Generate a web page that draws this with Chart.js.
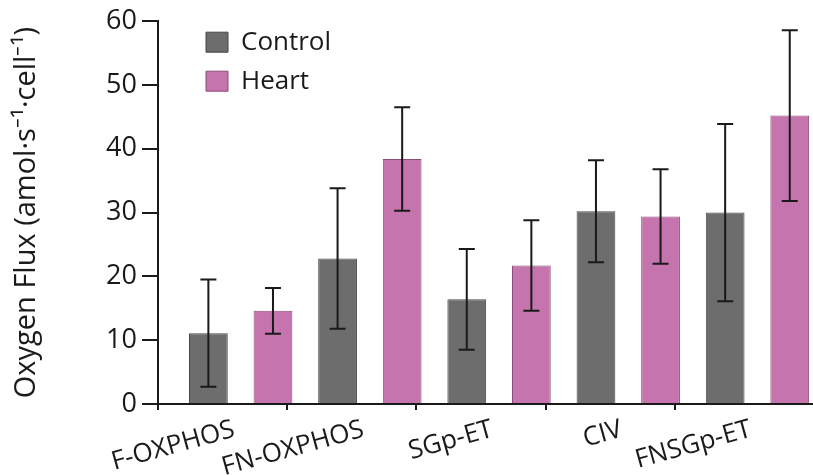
<!DOCTYPE html>
<html lang="en">
<head>
    <meta charset="UTF-8">
    <title>Oxygen Flux</title>
    <script src="https://cdn.jsdelivr.net/npm/chart.js"></script>
    <style>
        body {
            margin: 0;
            padding: 0;
            background: #fff;
        }

        canvas {
            display: block;
        }
    </style>
</head>
<body>
    <canvas id="flujo" width="813" height="475"></canvas>

    <script>
        const grupos = ['F-OXPHOS', 'FN-OXPHOS', 'SGp-ET', 'CIV', 'FNSGp-ET'];
        const controlMedia = [11.1, 22.8, 16.4, 30.2, 30.0];
        const controlError = [8.4, 11.0, 7.9, 8.0, 13.9];
        const heartMedia = [14.6, 38.4, 21.7, 29.4, 45.2];
        const heartError = [3.6, 8.1, 7.1, 7.4, 13.4];
        const series = ['Control', 'Heart'];

        const fuente = "'Open Sans', sans-serif";
        const tinta = '#1a1a1a';

        // barras de error dibujadas con las escalas del grafico
        const barrasError = {
            id: 'barrasError',
            afterDatasetsDraw(chart) {
                const ctx = chart.ctx;
                const y = chart.scales.y;
                ctx.save();
                ctx.strokeStyle = tinta;
                ctx.lineWidth = 2;
                chart.data.datasets.forEach((ds, i) => {
                    const meta = chart.getDatasetMeta(i);
                    meta.data.forEach((barra, j) => {
                        const m = ds.data[j].y;
                        const e = ds.errores[j];
                        const arriba = y.getPixelForValue(m + e);
                        const abajo = y.getPixelForValue(m - e);
                        const cx = barra.x;
                        ctx.beginPath();
                        ctx.moveTo(cx, arriba);
                        ctx.lineTo(cx, abajo);
                        ctx.moveTo(cx - 8, arriba);
                        ctx.lineTo(cx + 8, arriba);
                        ctx.moveTo(cx - 8, abajo);
                        ctx.lineTo(cx + 8, abajo);
                        ctx.stroke();
                    });
                });
                ctx.restore();
            }
        };

        // coloca la leyenda arriba a la izquierda, dentro del area
        const moverLeyenda = {
            id: 'moverLeyenda',
            afterLayout(chart) {
                if (chart.legend) {
                    chart.legend.left = chart.chartArea.left + 35;
                    chart.legend.top = chart.chartArea.top - 5;
                }
            }
        };

        const ctx = document.getElementById('flujo').getContext('2d');
        new Chart(ctx, {
            type: 'bar',
            data: {
                datasets: [{
                    label: series[0],
                    data: controlMedia.map((v, i) => ({ x: 2 * i, y: v })),
                    errores: controlError,
                    backgroundColor: '#6d6d6d',
                    borderColor: '#474747',
                    borderWidth: 1
                }, {
                    label: series[1],
                    data: heartMedia.map((v, i) => ({ x: 2 * i + 1, y: v })),
                    errores: heartError,
                    backgroundColor: '#c574ad',
                    borderColor: '#8c4c7a',
                    borderWidth: 1
                }]
            },
            options: {
                responsive: false,
                animation: false,
                devicePixelRatio: 1,
                layout: {
                    padding: { top: 21, right: 0, bottom: 0, left: 0 }
                },
                datasets: {
                    bar: {
                        grouped: false,
                        categoryPercentage: 1,
                        barPercentage: 0.6
                    }
                },
                plugins: {
                    legend: {
                        position: 'chartArea',
                        align: 'start',
                        labels: {
                            boxWidth: 22,
                            boxHeight: 20,
                            padding: 13,
                            color: tinta,
                            font: { family: fuente, size: 26 }
                        }
                    },
                    tooltip: { enabled: false }
                },
                scales: {
                    x: {
                        type: 'linear',
                        offset: false,
                        min: -0.78,
                        max: 9.36,
                        afterBuildTicks: (scale) => {
                            scale.ticks = grupos.map((g, i) => ({ value: 2 * i - 0.78 }));
                        },
                        afterFit: (scale) => {
                            scale.height = 71;
                        },
                        grid: {
                            offset: false,
                            drawOnChartArea: false,
                            tickLength: 6,
                            color: tinta,
                            lineWidth: 2
                        },
                        border: { color: tinta, width: 2 },
                        ticks: {
                            autoSkip: false,
                            minRotation: 15.5,
                            maxRotation: 15.5,
                            labelOffset: 76,
                            padding: 4,
                            color: tinta,
                            font: { family: fuente, size: 26 },
                            callback: (v, i) => grupos[i]
                        }
                    },
                    y: {
                        min: 0,
                        max: 60,
                        afterFit: (scale) => {
                            scale.width = 158;
                        },
                        grid: {
                            drawOnChartArea: false,
                            tickLength: 16,
                            color: tinta,
                            lineWidth: 2
                        },
                        border: { color: tinta, width: 2 },
                        ticks: {
                            stepSize: 10,
                            padding: 5,
                            color: tinta,
                            font: { family: fuente, size: 27 }
                        },
                        title: {
                            display: true,
                            text: 'Oxygen Flux (amol·s⁻¹·cell⁻¹)',
                            color: tinta,
                            padding: { top: 9, bottom: 0 },
                            font: { family: fuente, size: 29 }
                        }
                    }
                }
            },
            plugins: [barrasError, moverLeyenda]
        });
    </script>
</body>
</html>
